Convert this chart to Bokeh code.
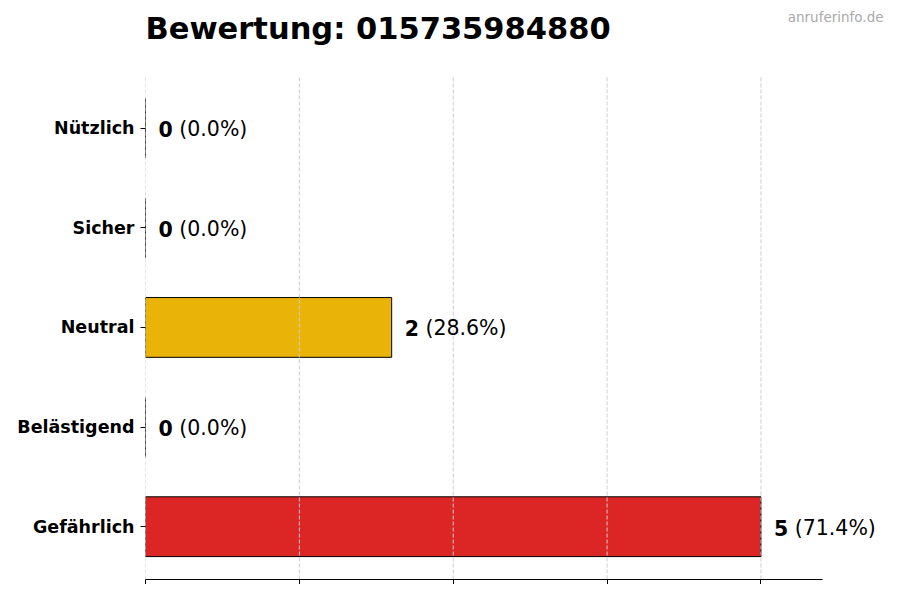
from bokeh.plotting import figure
from bokeh.models import Range1d, FixedTicker, ColumnDataSource
from bokeh.core.properties import value
from bokeh.embed import file_html
from bokeh.resources import INLINE

# data (top to bottom)
categories = ["Nützlich", "Sicher", "Neutral", "Belästigend", "Gefährlich"]
counts = [0, 0, 2, 0, 5]
colors = ["#16a34a", "#2563eb", "#eab308", "#f97316", "#dc2626"]
phone = "015735984880"
x_ticks = [0, 1.25, 2.5, 3.75, 5]

total = sum(counts)
pos = [len(categories) - 1 - i for i in range(len(categories))]
pct = ["(%.1f%%)" % (100.0 * c / total) for c in counts]
num = [str(c) for c in counts]

FONT = "DejaVu Sans"
VSIZE = 20.5
off_bold = 13
off_norm = [off_bold + len(s) * 0.696 * VSIZE + 0.318 * VSIZE for s in num]

# axes geometry (styling)
XAXIS_END = 5.5          # end of drawn x axis
YMIN, YTOP = -0.53, 4.52  # plot area in data units
PXX = 677.0 / XAXIS_END   # px per x unit
PXY = 504.0 / (YTOP - YMIN)
LEFT, W, H = 145, 884, 584
frame_w = W - LEFT
frame_top_px = 76
XMAX = frame_w / PXX
YMAX = YTOP + frame_top_px / PXY

src = ColumnDataSource(dict(y=pos, right=counts, color=colors, num=num, pct=pct, off2=off_norm))

p = figure(width=W, height=H, output_backend="svg", toolbar_location=None, title=None,
           x_range=Range1d(0, XMAX), y_range=Range1d(YMIN, YMAX),
           min_border_left=LEFT, min_border_right=0, min_border_top=0, min_border_bottom=4)
p.outline_line_color = None
p.background_fill_color = "white"
p.border_fill_color = "white"

p.hbar(y="y", left=0, right="right", height=0.6, fill_color="color", line_color="black",
       line_width=1, source=src)

# dashed grid drawn above bars, limited to the plot area
grid_src = ColumnDataSource(dict(x=x_ticks, y0=[YMIN] * len(x_ticks), y1=[YTOP] * len(x_ticks)))
p.segment(x0="x", y0="y0", x1="x", y1="y1", line_color="#cccccc", line_dash="4 2",
          line_width=1, source=grid_src)

p.text(x="right", y="y", text="num", x_offset=off_bold, y_offset=1, text_baseline="middle",
       text_align="left", text_font=value(FONT), text_font_style="bold",
       text_font_size=f"{VSIZE}px", text_color="black", source=src)
p.text(x="right", y="y", text="pct", x_offset="off2", y_offset=1, text_baseline="middle",
       text_align="left", text_font=value(FONT), text_font_size=f"{VSIZE}px",
       text_color="black", source=src)

# title and watermark inside the (extended) frame
p.text(x=[0], y=[YTOP + 47.5 / PXY], text=["Bewertung: " + phone], text_font=value(FONT),
       text_font_style="bold", text_font_size="30.5px", text_color="black",
       text_baseline="middle", text_align="left")
p.text(x=[(883 - LEFT) / PXX], y=[YTOP + 59.5 / PXY], text=["anruferinfo.de"],
       text_font=value(FONT), text_font_size="13.5px", text_color="#aaaaaa",
       text_baseline="middle", text_align="right")

# axes
p.xaxis.ticker = FixedTicker(ticks=x_ticks)
p.xaxis.bounds = (0, XAXIS_END)
p.xaxis.major_label_overrides = {t: "" for t in x_ticks}
p.xaxis.major_label_standoff = 0
p.xaxis.major_label_text_font_size = "1px"
p.xaxis.axis_line_color = "black"
p.xaxis.major_tick_line_color = "black"
p.xaxis.major_tick_out = 5
p.xaxis.major_tick_in = 0
p.xaxis.minor_tick_line_color = None

p.yaxis.ticker = FixedTicker(ticks=pos)
p.yaxis.major_label_overrides = {pp: c for pp, c in zip(pos, categories)}
p.yaxis.axis_line_color = None
p.yaxis.major_tick_out = 5
p.yaxis.major_tick_in = 0
p.yaxis.minor_tick_line_color = None
p.yaxis.major_label_text_font = FONT
p.yaxis.major_label_text_font_style = "bold"
p.yaxis.major_label_text_font_size = "17.5px"
p.yaxis.major_label_text_color = "black"
p.yaxis.major_label_standoff = 6

p.xgrid.grid_line_color = None
p.ygrid.grid_line_color = None

open("out.html", "w").write(file_html(p, INLINE))
